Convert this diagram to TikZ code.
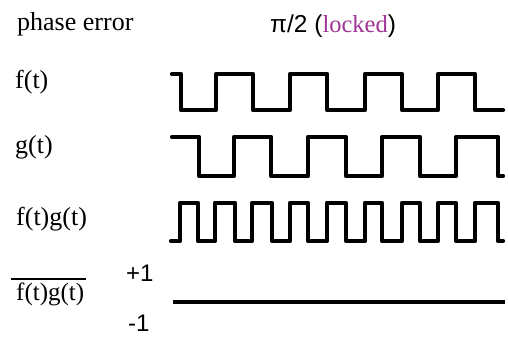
\documentclass[tikz,border=0pt]{standalone}
\usepackage{fontspec}
\setmainfont{Liberation Serif}
\newfontfamily\sansfont{Liberation Sans}
\definecolor{lockedpurple}{RGB}{160,52,150}
\begin{document}
\begin{tikzpicture}[x=1pt,y=-1pt,
  label/.style={anchor=base west,inner sep=0pt,font=\fontsize{26}{28}\selectfont},
  level/.style={anchor=base west,inner sep=0pt,font=\sansfont\fontsize{24}{26}\selectfont},
  wave/.style={line width=4.2pt,line join=round,line cap=round}]
\useasboundingbox (0,0) rectangle (508,337);

% row labels
\node[label] (phase) at (17,31) {phase error};
\node[label,font=\fontsize{24.5}{27}\selectfont] (title) at (270,33)
  {{\sansfont π/2 (}\textcolor{lockedpurple}{locked}{\sansfont )}};
\node[label] (flab) at (15,88) {f(t)};
\node[label] (glab) at (15,153) {g(t)};
\node[label] (fglab) at (16,225) {f(t)g(t)};
\node[label,font=\fontsize{25}{27}\selectfont] (avglab) at (16,300) {f(t)g(t)};
\draw[line width=1.8pt] ([xshift=-5pt,yshift=3pt]avglab.north west) -- ([xshift=2pt,yshift=3pt]avglab.north east);

% output levels
\node[level] (plus) at (126,281) {+1};
\node[level] (minus) at (128,331) {-1};

% f(t)
\draw[wave] (172,74) -- (181,74) -- (181,110) -- (216,110) -- (216,74) -- (253,74)
  -- (253,110) -- (290,110) -- (290,74) -- (327,74) -- (327,110) -- (365,110)
  -- (365,74) -- (402,74) -- (402,110) -- (438,110) -- (438,74) -- (475,74)
  -- (475,110) -- (503,110);

% g(t)
\draw[wave] (172,137) -- (199,137) -- (199,176) -- (234,176) -- (234,137) -- (271,137)
  -- (271,176) -- (308,176) -- (308,137) -- (346,137) -- (346,176) -- (382,176)
  -- (382,137) -- (420,137) -- (420,176) -- (456,176) -- (456,137) -- (498,137)
  -- (498,176) -- (503,176);

% f(t)g(t)
\draw[wave] (171,241) -- (180,241) -- (180,203) -- (198,203) -- (198,241)
  -- (215,241) -- (215,203) -- (235,203) -- (235,241)
  -- (252,241) -- (252,203) -- (272,203) -- (272,241)
  -- (290,241) -- (290,203) -- (308,203) -- (308,241)
  -- (327,241) -- (327,203) -- (346,203) -- (346,241)
  -- (365,241) -- (365,203) -- (382,203) -- (382,241)
  -- (402,241) -- (402,203) -- (420,203) -- (420,241)
  -- (438,241) -- (438,203) -- (456,203) -- (456,241)
  -- (475,241) -- (475,203) -- (498,203) -- (498,241) -- (503,241);

% average of f(t)g(t)
\draw[line width=4.2pt] (173,302) -- (505,302);
\end{tikzpicture}
\end{document}
